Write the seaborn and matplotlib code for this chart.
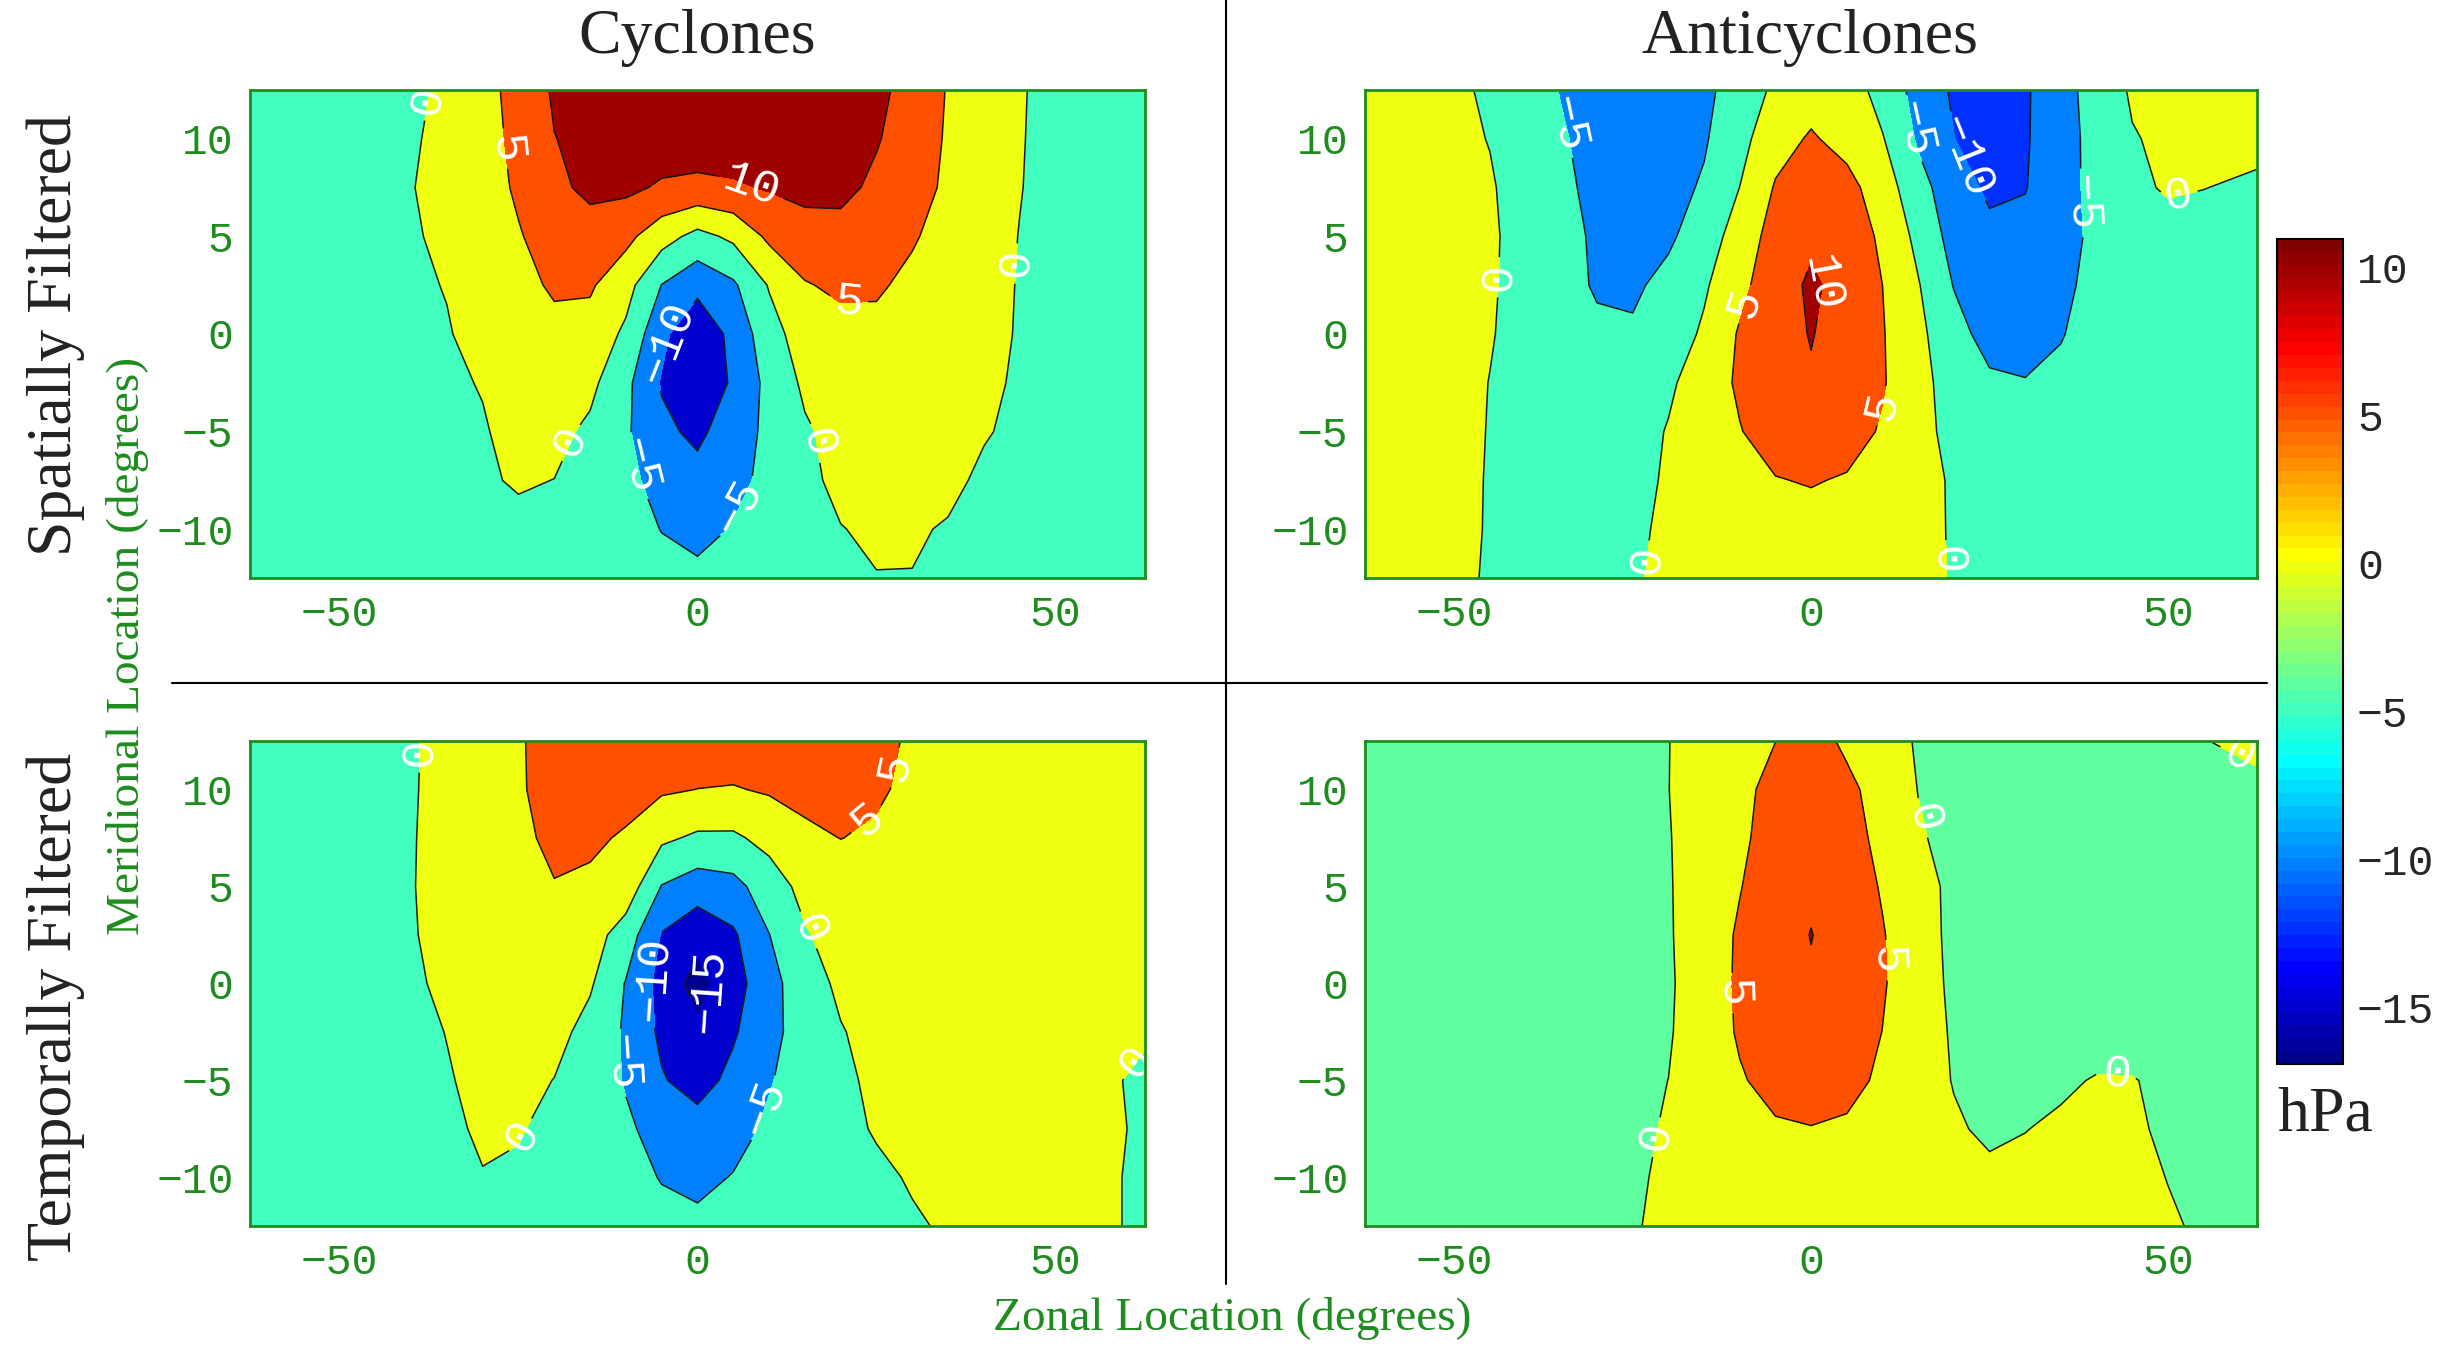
import numpy as np
import matplotlib
matplotlib.use("Agg")
import matplotlib.pyplot as plt
from matplotlib.colors import Normalize, ListedColormap
import matplotlib.cm as cm
import seaborn as sns

# grid (degrees)
zonal_deg = [-62.5, -55, -50, -45, -40, -35, -30, -25, -20, -15, -10, -5, 0,
             5, 10, 15, 20, 25, 30, 35, 40, 45, 50, 55, 62.5]
meridional_deg = [12.5, 10, 7.5, 5, 2.5, 0, -2.5, -5, -7.5, -10, -12.5]

# composite pressure anomaly (hPa), rows from north to south
cyclones_spatial = [
    [-2.6, -2.5, -2.4, -2.0, -1.2, 1.1, 3.5, 6.55, 10.6, 12.2, 13.2, 13.6, 13.6, 13.6, 13.4, 13.0, 12.2, 11.2, 8.2, 4.7, 2.55, 0.35, -1.3, -2.2, -2.6],
    [-2.6, -2.5, -2.3, -1.7, -0.6, 1.43, 3.5, 6.0, 9.9, 11.2, 12.2, 12.6, 12.7, 12.7, 12.6, 12.2, 11.4, 10.4, 7.5, 4.5, 2.4, 0.25, -1.3, -2.2, -2.6],
    [-2.6, -2.5, -2.3, -1.8, -0.2, 1.6, 3.45, 5.5, 8.5, 11.5, 11.0, 9.4, 8.8, 9.4, 10.4, 11.5, 11.3, 9.0, 6.6, 4.3, 2.2, 0.15, -1.4, -2.2, -2.6],
    [-2.6, -2.5, -2.3, -1.7, -0.6, 1.15, 2.95, 4.75, 6.5, 7.2, 6.3, 2.0, -1.5, 1.0, 6.0, 7.8, 8.3, 7.6, 5.4, 3.5, 1.7, -0.1, -1.5, -2.2, -2.6],
    [-2.6, -2.4, -2.2, -1.6, -0.8, 0.2, 2.0, 3.9, 5.5, 5.6, 1.8, -5.1, -8.5, -5.75, 0.35, 4.7, 5.8, 5.5, 4.1, 2.7, 1.25, -0.2, -1.5, -2.2, -2.6],
    [-2.6, -2.4, -2.2, -1.6, -1.0, -0.3, 1.5, 3.2, 4.0, 3.2, -0.9, -8.8, -14.0, -8.5, -2.0, 2.5, 3.6, 4.0, 3.6, 2.5, 1.2, -0.3, -1.6, -2.2, -2.6],
    [-2.6, -2.4, -2.2, -1.8, -1.3, -0.6, 0.2, 1.6, 2.2, 1.2, -3.8, -10.4, -14.9, -9.1, -3.6, 0.9, 2.6, 3.4, 3.2, 2.2, 0.8, -0.5, -1.6, -2.2, -2.6],
    [-2.6, -2.4, -2.3, -1.9, -1.5, -0.9, -0.3, 1.2, 1.3, -0.9, -4.3, -9.0, -11.0, -7.6, -3.8, -0.6, 1.6, 2.7, 2.8, 2.0, 0.3, -0.8, -1.6, -2.2, -2.6],
    [-2.6, -2.4, -2.3, -2.0, -1.6, -1.1, -0.5, 0.4, -0.05, -1.5, -3.9, -6.5, -8.5, -6.4, -3.7, -0.8, 0.8, 1.7, 1.7, 0.9, -0.7, -1.3, -1.8, -2.3, -2.6],
    [-2.6, -2.4, -2.4, -2.2, -2.0, -1.7, -1.4, -1.0, -1.3, -2.2, -3.5, -5.1, -6.5, -4.7, -2.8, -1.2, -0.1, 0.5, 0.4, -0.3, -1.0, -1.6, -2.0, -2.3, -2.6],
    [-2.6, -2.5, -2.4, -2.3, -2.2, -2.0, -1.8, -1.7, -1.9, -2.3, -3.0, -3.8, -3.8, -3.6, -2.6, -1.6, -0.8, -0.1, -0.1, -0.8, -1.4, -1.9, -2.2, -2.4, -2.6],
]

anticyclones_spatial = [
    [1.5, 1.2, 0.6, -0.5, -3.0, -5.2, -6.5, -7.0, -6.7, -6.0, -3.0, 0.95, 3.0, 2.7, -1.97, -6.6, -10.7, -12.5, -10.6, -6.7, -3.05, 0.6, 1.5, 1.8, 1.8],
    [1.8, 1.5, 1.0, -0.15, -2.4, -4.6, -6.4, -7.0, -6.6, -5.5, -1.55, 3.2, 5.5, 3.4, 0.3, -5.6, -9.9, -12.3, -10.5, -6.8, -3.5, -0.3, 0.9, 1.4, 1.5],
    [2.0, 1.8, 1.3, 0.4, -1.85, -4.2, -6.0, -6.8, -6.6, -4.46, 0.05, 5.4, 7.6, 6.5, 2.55, -3.3, -7.7, -10.9, -10.2, -6.9, -3.5, -1.2, 0.6, 0.1, -0.9],
    [2.2, 2.0, 1.6, 0.6, -1.55, -3.7, -5.6, -6.4, -5.8, -2.4, 2.1, 7.0, 9.2, 7.5, 4.25, -1.3, -6.8, -8.8, -8.7, -6.8, -3.9, -2.3, -2.0, -2.2, -2.4],
    [2.3, 2.1, 1.7, 0.5, -1.6, -3.65, -5.4, -5.8, -3.6, -0.63, 3.7, 7.95, 10.7, 8.5, 5.0, 0.3, -5.2, -7.8, -8.3, -6.5, -3.0, -2.2, -2.0, -2.2, -2.4],
    [2.3, 2.1, 1.7, 0.3, -1.7, -3.2, -4.3, -4.4, -2.6, 0.7, 5.5, 8.4, 10.2, 8.2, 5.3, 1.14, -3.25, -6.8, -7.5, -5.3, -2.8, -2.2, -2.0, -2.2, -2.4],
    [2.3, 2.0, 1.6, -0.1, -1.6, -2.8, -3.5, -3.3, -0.8, 2.5, 5.7, 8.3, 9.6, 8.2, 5.4, 1.56, -2.1, -4.2, -4.7, -3.8, -2.6, -2.2, -2.0, -2.2, -2.4],
    [2.2, 1.9, 1.4, -0.2, -1.5, -2.5, -2.8, -2.0, 0.3, 2.6, 4.8, 7.0, 8.2, 7.0, 4.5, 1.6, -1.5, -2.8, -3.2, -2.9, -2.4, -2.2, -2.0, -2.2, -2.4],
    [2.0, 1.8, 1.3, -0.3, -1.3, -2.0, -2.0, -1.0, 0.4, 1.8, 3.3, 4.8, 5.3, 4.6, 3.3, 1.5, -0.5, -1.6, -2.2, -2.3, -2.2, -2.1, -2.0, -2.2, -2.4],
    [1.8, 1.6, 1.1, -0.3, -1.1, -1.6, -1.5, -0.3, 0.3, 1.3, 2.2, 3.0, 3.3, 3.0, 2.2, 1.0, -0.3, -1.2, -1.8, -2.0, -2.0, -2.0, -2.0, -2.2, -2.4],
    [1.6, 1.4, 0.9, -0.4, -1.0, -1.4, -1.2, -0.2, 0.4, 1.0, 1.6, 2.0, 2.2, 2.0, 1.6, 0.8, -0.2, -1.0, -1.5, -1.8, -1.9, -2.0, -2.0, -2.2, -2.4],
]

cyclones_temporal = [
    [-2.5, -2.4, -2.1, -1.5, -0.4, 1.22, 2.95, 4.7, 6.2, 7.0, 7.5, 7.7, 7.8, 7.8, 7.6, 7.2, 6.6, 5.8, 4.6, 3.8, 3.3, 3.0, 2.8, 2.7, 2.6],
    [-2.5, -2.4, -2.2, -1.6, -0.35, 1.3, 3.0, 4.7, 6.0, 6.5, 6.3, 5.6, 4.95, 4.7, 5.5, 6.1, 6.2, 5.5, 4.2, 3.5, 3.1, 2.9, 2.8, 2.7, 2.6],
    [-2.5, -2.4, -2.2, -1.7, -0.25, 1.35, 2.9, 4.5, 5.5, 5.6, 4.6, 0.9, -0.8, -0.8, 1.5, 4.2, 5.05, 4.5, 3.7, 3.3, 3.0, 2.8, 2.7, 2.6, 2.5],
    [-2.5, -2.4, -2.2, -1.7, -0.2, 1.4, 3.0, 4.3, 4.9, 4.4, 3.0, -5.2, -7.5, -6.5, -2.5, 1.5, 3.0, 3.6, 3.5, 3.3, 3.0, 2.8, 2.7, 2.6, 2.5],
    [-2.5, -2.4, -2.2, -1.7, -0.3, 1.2, 2.5, 3.3, 3.4, 2.2, -2.34, -10.3, -13.5, -10.7, -5.1, -0.45, 2.0, 3.0, 3.3, 3.2, 3.0, 2.8, 2.7, 2.6, 2.5],
    [-2.5, -2.4, -2.2, -1.8, -0.8, 1.0, 2.3, 3.0, 2.6, 0.6, -5.26, -11.7, -16.8, -12.1, -6.6, -2.35, 1.0, 2.3, 2.8, 2.9, 2.8, 2.7, 2.5, 2.0, 1.4],
    [-2.5, -2.4, -2.3, -1.9, -1.1, 0.1, 1.6, 2.2, 1.6, -1.67, -5.6, -11.0, -14.2, -10.6, -6.3, -3.05, -0.3, 1.6, 2.4, 2.6, 2.6, 2.4, 2.0, 1.2, 0.3],
    [-2.5, -2.4, -2.3, -2.0, -1.3, -0.3, 1.0, 1.4, -0.1, -2.65, -5.34, -9.6, -12.0, -8.67, -5.3, -3.06, -0.9, 0.9, 1.7, 2.0, 2.0, 1.8, 1.4, 0.7, -0.5],
    [-2.5, -2.4, -2.3, -2.1, -1.6, -0.7, 0.5, 0.3, -1.1, -2.5, -4.3, -6.6, -8.0, -6.5, -4.3, -2.7, -1.3, 0.4, 1.1, 1.4, 1.4, 1.2, 0.9, 0.6, -0.3],
    [-2.5, -2.4, -2.3, -2.2, -1.8, -1.0, -0.15, -0.6, -1.7, -2.7, -3.6, -5.2, -6.0, -4.8, -3.5, -2.6, -1.9, -0.9, 0.4, 0.9, 1.0, 0.9, 0.7, 0.4, -0.3],
    [-2.5, -2.4, -2.3, -2.2, -2.0, -1.6, -1.2, -1.3, -2.0, -2.6, -3.2, -3.8, -4.1, -3.6, -3.0, -2.4, -1.9, -1.3, -0.5, 0.5, 0.7, 0.7, 0.6, 0.4, -0.3],
]

anticyclones_temporal = [
    [-3.0, -3.0, -3.0, -2.9, -2.7, -2.2, -1.5, -0.75, -0.07, 1.6, 3.3, 4.97, 6.8, 4.2, 1.9, -0.4, -1.5, -2.2, -2.5, -2.5, -2.3, -1.8, -1.0, -0.1, 0.8],
    [-3.0, -3.0, -3.0, -2.9, -2.7, -2.2, -1.5, -0.8, -0.05, 1.99, 4.0, 6.2, 7.4, 6.0, 3.27, -0.1, -1.4, -2.1, -2.5, -2.6, -2.5, -2.1, -1.7, -1.3, -0.7],
    [-3.1, -3.1, -3.1, -3.0, -2.8, -2.3, -1.6, -0.9, -0.2, 1.98, 4.2, 6.8, 8.5, 6.7, 3.85, 0.5, -1.4, -2.2, -2.7, -2.9, -2.8, -2.6, -2.3, -2.1, -1.8],
    [-3.2, -3.2, -3.2, -3.1, -2.9, -2.4, -1.7, -0.9, -0.3, 2.1, 4.8, 7.7, 9.4, 7.6, 4.6, 1.3, -0.8, -2.0, -2.6, -2.9, -2.9, -2.8, -2.6, -2.5, -2.3],
    [-3.3, -3.3, -3.3, -3.2, -3.0, -2.5, -1.8, -1.0, -0.4, 2.4, 5.6, 8.4, 10.1, 8.3, 5.3, 1.86, -1.0, -2.2, -2.7, -2.9, -2.9, -2.8, -2.7, -2.6, -2.5],
    [-4.2, -3.4, -3.4, -3.3, -3.1, -2.6, -1.9, -1.1, -0.6, 2.56, 5.7, 8.3, 9.6, 8.2, 5.4, 2.24, -0.9, -2.0, -2.6, -2.8, -2.8, -2.7, -2.6, -2.5, -2.4],
    [-3.4, -3.4, -3.4, -3.3, -3.1, -2.6, -1.9, -1.1, -0.4, 2.5, 5.5, 7.5, 8.3, 7.4, 4.95, 2.2, -0.5, -1.8, -2.2, -2.2, -2.0, -1.9, -2.1, -2.3, -2.3],
    [-3.3, -3.3, -3.2, -3.1, -2.8, -2.3, -1.7, -0.9, 0.02, 2.3, 4.6, 6.4, 7.0, 6.3, 4.25, 2.0, -0.2, -1.3, -1.2, -0.7, 0.3, 0.2, -0.9, -1.6, -2.0],
    [-3.2, -3.2, -3.1, -3.0, -2.6, -2.1, -1.5, -0.7, 0.3, 2.0, 3.5, 4.5, 4.85, 4.4, 3.5, 2.2, 0.5, -0.7, -0.1, 0.7, 1.2, 0.8, -0.9, -1.5, -1.9],
    [-3.0, -3.0, -2.9, -2.7, -2.4, -1.9, -1.3, -0.5, 0.6, 1.8, 2.6, 3.2, 3.4, 3.1, 2.6, 1.9, 1.4, 0.8, 1.1, 1.5, 1.6, 1.2, -0.1, -1.0, -1.6],
    [-2.8, -2.8, -2.7, -2.5, -2.2, -1.7, -1.1, -0.25, 0.7, 1.5, 2.0, 2.4, 2.5, 2.3, 2.0, 1.6, 1.3, 1.1, 1.2, 1.4, 1.5, 1.3, 0.5, -0.6, -1.2],
]

contour_levels = [-15, -10, -5, 0, 5, 10]
cbar_ticks = [-15, -10, -5, 0, 5, 10]
color_limits = (-16.9, 10.95)
x_ticks = [-50, 0, 50]
y_ticks = [-10, -5, 0, 5, 10]
col_titles = ["Cyclones", "Anticyclones"]
row_titles = ["Spatially Filtered", "Temporally Filtered"]

# where the contour labels sit (degrees)
labels_cyc_spatial = [(-36.8, 11.9), (-26.7, 9.5), (7.5, 7.6), (44.7, 3.6), (21.1, 1.0),
                      (-4.0, -0.5), (-16.9, -5.7), (-8.8, -6.8), (5.9, -8.9), (16.3, -5.6)]
labels_anti_spatial = [(-34.8, 10.7), (-43.3, 2.9), (-10.0, 1.6), (1.8, 2.6), (14.0, 10.5),
                       (20.5, 8.9), (37.2, 6.7), (51.8, 6.5), (9.9, -3.7), (-23.0, -11.6),
                       (18.7, -11.6)]
labels_cyc_temporal = [(-38.0, 11.9), (28.2, 11.1), (24.6, 8.0), (14.8, 2.6), (-5.9, 0.2),
                       (1.0, -0.3), (-10.8, -4.1), (9.9, -6.5), (-23.8, -8.0), (60.5, -3.9)]
labels_anti_temporal = [(15.2, 8.5), (59.1, 11.2), (10.3, 1.2), (-11.6, -0.5),
                        (-20.6, -8.0), (42.8, -4.5)]

sns.set_theme(style="white")
plt.rcParams["font.family"] = ["Liberation Mono", "DejaVu Sans Mono"]
plt.rcParams["axes.unicode_minus"] = True

green = "#1e8c1e"
serif = ["Liberation Serif", "DejaVu Serif"]


def matlab_jet(m=64):
    # same construction as MATLAB's jet(m)
    n = m // 4
    u = np.concatenate([np.arange(1, n + 1) / n, np.ones(n - 1), np.arange(n, 0, -1) / n])
    g = n // 2 + np.arange(1, len(u) + 1)
    r = g + n
    b = g - n
    rgb = np.zeros((m, 3))
    ok = r <= m
    rgb[r[ok] - 1, 0] = u[ok]
    ok = g <= m
    rgb[g[ok] - 1, 1] = u[ok]
    ok = b >= 1
    rgb[b[ok] - 1, 2] = u[ok]
    return ListedColormap(rgb)


jet = matlab_jet(64)
norm = Normalize(*color_limits)


def minus_fmt(v):
    return f"{v:.0f}".replace("-", "\u2212")


def draw_panel(ax, field, label_spots):
    z = np.array(field)
    zmin, zmax = z.min(), z.max()
    inner = [lv for lv in contour_levels if zmin < lv < zmax]
    bounds = [zmin - 0.01] + inner + [zmax + 0.01]
    band_cols = [jet(norm(v)) for v in [zmin] + inner]
    ax.contourf(zonal_deg, meridional_deg, z, levels=bounds, colors=band_cols)
    cs = ax.contour(zonal_deg, meridional_deg, z, levels=inner,
                    colors="k", linewidths=1.1, linestyles="solid")
    ax.clabel(cs, fmt=minus_fmt, colors="white", fontsize=34,
              inline=True, inline_spacing=6, manual=label_spots)
    ax.set_xlim(-62.5, 62.5)
    ax.set_ylim(-12.5, 12.5)
    ax.set_xticks(x_ticks)
    ax.set_yticks(y_ticks)
    ax.tick_params(direction="in", length=7, width=1.2, color=green,
                   labelcolor=green, labelsize=31, pad=12,
                   bottom=True, left=True, top=True, right=True)
    for sp in ax.spines.values():
        sp.set_color(green)
        sp.set_linewidth(2)
        sp.set_zorder(5)


fig = plt.figure(figsize=(24.46, 13.46), dpi=100)

panels = [
    ([0.1022, 0.5706, 0.3659, 0.3626], cyclones_spatial, labels_cyc_spatial),
    ([0.5581, 0.5706, 0.3647, 0.3626], anticyclones_spatial, labels_anti_spatial),
    ([0.1022, 0.0892, 0.3659, 0.3603], cyclones_temporal, labels_cyc_temporal),
    ([0.5581, 0.0892, 0.3647, 0.3603], anticyclones_temporal, labels_anti_temporal),
]
for rect, field, spots in panels:
    ax = fig.add_axes(rect)
    draw_panel(ax, field, spots)

# colorbar
cax = fig.add_axes([0.9309, 0.2095, 0.027, 0.6129])
sm = cm.ScalarMappable(norm=norm, cmap=jet)
cb = fig.colorbar(sm, cax=cax, ticks=cbar_ticks)
cb.outline.set_edgecolor("black")
cb.outline.set_linewidth(1.5)
cax.tick_params(direction="in", length=8, width=1.2, color="black",
                labelsize=31, pad=10, left=True, right=True)
cax.set_yticklabels([minus_fmt(t) for t in cbar_ticks])

# separator lines
fig.add_artist(plt.Line2D([0.5012, 0.5012], [0.046, 1.0], color="black", lw=1.5))
fig.add_artist(plt.Line2D([0.0703, 0.927], [0.4926, 0.4926], color="black", lw=1.5))

# titles and labels
fig.text(0.285, 0.972, col_titles[0], ha="center", va="center", fontsize=46, family=serif, color="#222222")
fig.text(0.740, 0.972, col_titles[1], ha="center", va="center", fontsize=46, family=serif, color="#222222")
fig.text(0.0229, 0.751, row_titles[0], ha="center", va="center", rotation=90, fontsize=46, family=serif, color="#222222")
fig.text(0.0229, 0.252, row_titles[1], ha="center", va="center", rotation=90, fontsize=46, family=serif, color="#222222")
fig.text(0.0523, 0.52, "Meridional Location (degrees)", ha="center", va="center", rotation=90, fontsize=34, family=serif, color=green)
fig.text(0.5037, 0.0208, "Zonal Location (degrees)", ha="center", va="center", fontsize=34, family=serif, color=green)
fig.text(0.9505, 0.1716, "hPa", ha="center", va="center", fontsize=46, family=serif, color="#222222")

fig.savefig("out.png", dpi=100)
